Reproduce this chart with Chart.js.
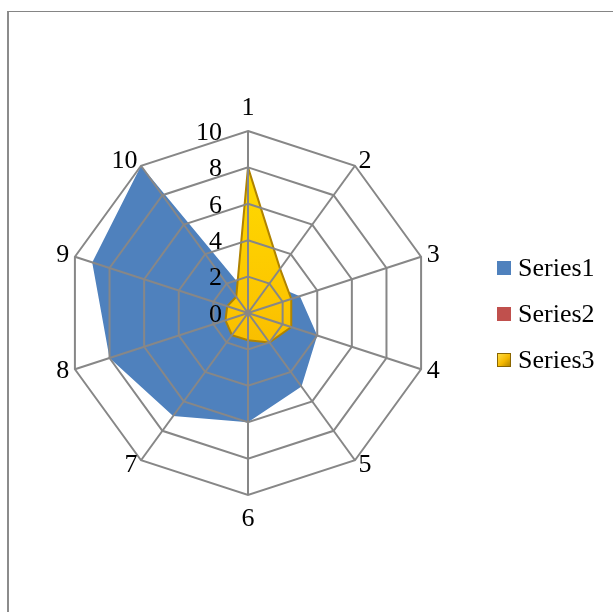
<!DOCTYPE html>
<html>
<head>
<meta charset="utf-8">
<script src="https://cdn.jsdelivr.net/npm/chart.js@4.4.0/dist/chart.umd.min.js"></script>
<style>
    body { margin: 0; background: #fff; }
    #wrap { position: relative; width: 613px; height: 612px; overflow: hidden; }
    #frame { position: absolute; left: 7px; top: 11px; width: 700px; height: 700px;
             border-top: 1px solid #858585; border-left: 2px solid #8c8c8c; }
    #radar { position: absolute; left: 0; top: 0; }
    #legend { position: absolute; left: 497px; top: 255px; font-family: "Liberation Serif", "Times New Roman", serif; font-size: 26px; }
    .item { position: relative; height: 26px; line-height: 26px; margin-bottom: 20px; padding-left: 21px; color: #000; white-space: nowrap; }
    .box { position: absolute; left: 0; top: 6px; width: 14px; height: 14px; }
</style>
</head>
<body>
<div id="wrap">
    <div id="frame"></div>
    <canvas id="radar" width="613" height="612"></canvas>
    <div id="legend"></div>
</div>
<script>
// data
const categories = ["1", "2", "3", "4", "5", "6", "7", "8", "9", "10"];
const seriesNames = ["Series1", "Series2", "Series3"];
const series1 = [1, 2, 3, 4, 5, 6, 7, 8, 9, 10];
const series2 = [0.8, 0.8, 0.8, 0.8, 0.8, 0.8, 0.8, 0.8, 0.8, 0.8];
const series3 = [8, 3, 2.5, 2.5, 2, 1.5, 1.5, 1.3, 1.2, 1.1];
const tickValues = [0, 2, 4, 6, 8, 10];

const colours = ["#4f81bd", "#c0504d", "#f7bd00"];
const fontFamily = '"Liberation Serif", "Times New Roman", serif';
const fontSize = 26;

// legend
const legend = document.getElementById("legend");
seriesNames.forEach((name, i) => {
    const item = document.createElement("div");
    item.className = "item";
    const box = document.createElement("span");
    box.className = "box";
    if (i === 2) {
        box.style.background = "linear-gradient(135deg, #ffe14d 0%, #f5b800 55%, #a67c00 100%)";
        box.style.boxShadow = "inset 0 0 0 1px #8a6500";
    } else {
        box.style.background = colours[i];
    }
    item.appendChild(box);
    item.appendChild(document.createTextNode(name));
    legend.appendChild(item);
});

// gold fill for series 3
const goldFill = (context) => {
    const chart = context.chart;
    const area = chart.chartArea;
    if (!area) return colours[2];
    const g = chart.ctx.createLinearGradient(0, area.top, 0, area.bottom);
    g.addColorStop(0, "#ffe000");
    g.addColorStop(0.5, "#fcc400");
    g.addColorStop(1, "#e8a000");
    return g;
};

// tick labels and category labels, placed the way Excel does it
const labelPlugin = {
    id: "excelLabels",
    afterDraw(chart) {
        const scale = chart.scales.r;
        const ctx = chart.ctx;
        ctx.save();
        ctx.font = fontSize + "px " + fontFamily;
        ctx.fillStyle = "#000";
        ctx.textBaseline = "middle";

        ctx.textAlign = "right";
        tickValues.forEach((v) => {
            const d = scale.getDistanceFromCenterForValue(v);
            ctx.fillText(String(v), scale.xCenter - 26, scale.yCenter - d + 2);
        });

        categories.forEach((label, i) => {
            const p = scale.getPointPosition(i, scale.drawingArea + 6);
            let y = p.y;
            if (Math.abs(p.x - scale.xCenter) < 2) {
                ctx.textAlign = "center";
                y += p.y < scale.yCenter ? -17 : 18;
            } else if (p.x > scale.xCenter) {
                ctx.textAlign = "left";
            } else {
                ctx.textAlign = "right";
            }
            ctx.fillText(label, p.x, y);
        });
        ctx.restore();
    }
};

const context = document.getElementById("radar").getContext("2d");
const radarChart = new Chart(context, {
    type: "radar",
    data: {
        labels: categories,
        datasets: [{
            label: seriesNames[0],
            data: series1,
            backgroundColor: colours[0],
            borderWidth: 0,
            fill: true,
            order: 2
        }, {
            label: seriesNames[1],
            data: series2,
            backgroundColor: colours[1],
            borderWidth: 0,
            fill: true,
            order: 1
        }, {
            label: seriesNames[2],
            data: series3,
            backgroundColor: goldFill,
            borderColor: "#b08300",
            borderWidth: 2,
            fill: true,
            order: 0
        }]
    },
    options: {
        responsive: false,
        animation: false,
        layout: {
            padding: { left: 66, right: 183, top: 131, bottom: 117 }
        },
        elements: {
            point: { radius: 0, hoverRadius: 0 },
            line: { tension: 0 }
        },
        plugins: {
            legend: { display: false },
            tooltip: { enabled: false }
        },
        scales: {
            r: {
                min: 0,
                max: 10,
                ticks: { display: false, stepSize: 2 },
                pointLabels: { display: false },
                grid: { color: "#878787", lineWidth: 2, z: 1 },
                angleLines: { color: "#878787", lineWidth: 2 }
            }
        }
    },
    plugins: [labelPlugin]
});
</script>
</body>
</html>
